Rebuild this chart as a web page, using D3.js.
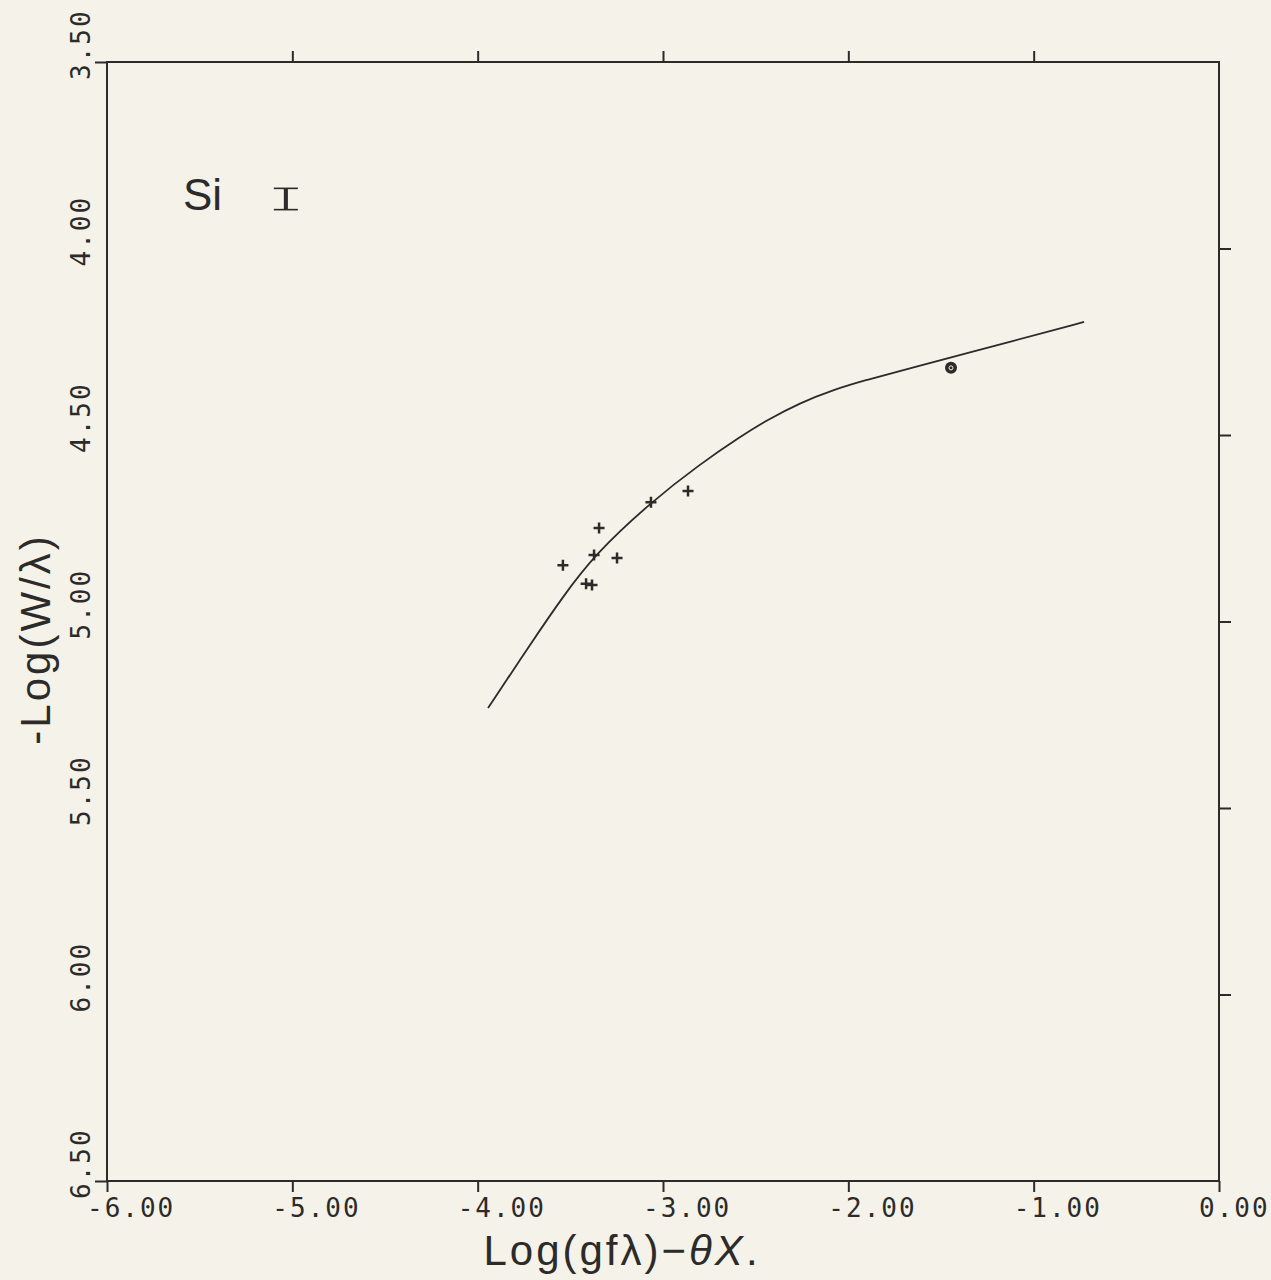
<!DOCTYPE html>
<html>
<head>
<meta charset="utf-8">
<script src="https://cdn.jsdelivr.net/npm/d3@7"></script>
<style>
  html, body { margin: 0; padding: 0; background: #f4f2e9; }
  svg { display: block; }
</style>
</head>
<body>
<script>
// Tick values and their printed labels
const xTicks = [-6, -5, -4, -3, -2, -1, 0];
const xTickLabels = ["-6.00", "-5.00", "-4.00", "-3.00", "-2.00", "-1.00", "0.00"];
const yTicks = [3.5, 4.0, 4.5, 5.0, 5.5, 6.0, 6.5];
const yTickLabels = ["3.50", "4.00", "4.50", "5.00", "5.50", "6.00", "6.50"];

// Measured lines (plus markers)
const lineX = [-2.865, -3.065, -3.345, -3.372, -3.248, -3.540, -3.415, -3.383];
const lineY = [4.650, 4.680, 4.749, 4.822, 4.830, 4.849, 4.899, 4.902];

// Circled point
const circX = [-1.446];
const circY = [4.320];

// Theoretical curve of growth
const curveX = [-3.944, -3.701, -3.545, -3.372, -3.065, -2.800, -2.584, -2.439, -2.261, -2.083, -1.899, -1.721, -1.074, -0.728];
const curveY = [5.232, 5.050, 4.937, 4.822, 4.680, 4.578, 4.505, 4.460, 4.414, 4.379, 4.352, 4.328, 4.243, 4.197];

const W = 1271, H = 1280;
const ink = "#2c2b29";
const paper = "#f4f2e9";
const L = 107, R = 1219, T = 62, B = 1181;

const svg = d3.select("body").append("svg")
  .attr("width", W).attr("height", H)
  .style("background", paper);

const x = d3.scaleLinear().domain([-6, 0]).range([L, R]);
const y = d3.scaleLinear().domain([3.5, 6.5]).range([T, B]);

// Frame
svg.append("rect")
  .attr("x", L).attr("y", T).attr("width", R - L).attr("height", B - T)
  .attr("fill", "none").attr("stroke", ink).attr("stroke-width", 2);

function styleAxis(g) {
  g.select(".domain").remove();
  g.selectAll(".tick line").attr("stroke", ink).attr("stroke-width", 2);
  g.selectAll(".tick text").remove();
}

// Bottom ticks (outward)
svg.append("g").attr("transform", `translate(0,${B})`)
  .call(d3.axisBottom(x).tickValues(xTicks).tickSize(11).tickFormat(""))
  .call(styleAxis);

// Top ticks (outward), interior values only
svg.append("g").attr("transform", `translate(0,${T})`)
  .call(d3.axisTop(x).tickValues(xTicks.slice(1, -1)).tickSize(11).tickFormat(""))
  .call(styleAxis);

// Left ticks at the ends of the range
svg.append("g").attr("transform", `translate(${L},0)`)
  .call(d3.axisLeft(y).tickValues([yTicks[0], yTicks[yTicks.length - 1]]).tickSize(12).tickFormat(""))
  .call(styleAxis);

// Right ticks, interior values
svg.append("g").attr("transform", `translate(${R},0)`)
  .call(d3.axisRight(y).tickValues(yTicks.slice(1, -1)).tickSize(12).tickFormat(""))
  .call(styleAxis);

const tickFont = "'DejaVu Sans Mono', 'Liberation Mono', monospace";

// X tick labels
svg.append("g").selectAll("text")
  .data(xTicks)
  .join("text")
  .attr("x", d => x(d) - 20)
  .attr("y", 1217)
  .attr("font-family", tickFont)
  .attr("font-size", 26)
  .attr("letter-spacing", 2)
  .attr("fill", ink)
  .text((d, i) => xTickLabels[i]);

// Y tick labels, rotated
svg.append("g").selectAll("text")
  .data(yTicks)
  .join("text")
  .attr("transform", d => `translate(90,${y(d) + 18}) rotate(-90)`)
  .attr("font-family", tickFont)
  .attr("font-size", 26)
  .attr("letter-spacing", 2)
  .attr("fill", ink)
  .text((d, i) => yTickLabels[i]);

const titleFont = "'Liberation Sans', Arial, sans-serif";

// X axis title
const xt = svg.append("text")
  .attr("x", 622).attr("y", 1265)
  .attr("text-anchor", "middle")
  .attr("font-family", titleFont)
  .attr("font-size", 42)
  .attr("letter-spacing", 3)
  .attr("fill", ink);
xt.append("tspan").text("Log(gfλ)−");
xt.append("tspan").attr("font-style", "italic").text("θX");
xt.append("tspan").text(".");

// Y axis title
svg.append("text")
  .attr("transform", "translate(50,639) rotate(-90)")
  .attr("text-anchor", "middle")
  .attr("font-family", titleFont)
  .attr("font-size", 42)
  .attr("letter-spacing", 3)
  .attr("fill", ink)
  .text("-Log(W/λ)");

// Species label: "Si" plus a wide, serifed roman numeral one
svg.append("text")
  .attr("x", 183).attr("y", 210)
  .attr("font-family", titleFont)
  .attr("font-size", 44)
  .attr("fill", ink)
  .text("Si");
svg.append("text")
  .attr("transform", "translate(286,211) scale(1.75,1)")
  .attr("text-anchor", "middle")
  .attr("font-family", "'Liberation Mono', 'DejaVu Sans Mono', monospace")
  .attr("font-size", 37)
  .attr("fill", ink)
  .attr("stroke", paper)
  .attr("stroke-width", 1.1)
  .attr("paint-order", "fill")
  .text("I");

// Curve
const curveData = curveX.map((v, i) => [v, curveY[i]]);
svg.append("path")
  .datum(curveData)
  .attr("fill", "none")
  .attr("stroke", ink)
  .attr("stroke-width", 1.8)
  .attr("d", d3.line().x(d => x(d[0])).y(d => y(d[1])).curve(d3.curveBasis));

// Plus markers
const plusData = lineX.map((v, i) => [v, lineY[i]]);
const arm = 5.5;
svg.append("g").selectAll("path")
  .data(plusData)
  .join("path")
  .attr("d", d => {
    const px = x(d[0]), py = y(d[1]);
    return `M${px - arm},${py}H${px + arm}M${px},${py - arm}V${py + arm}`;
  })
  .attr("stroke", ink)
  .attr("stroke-width", 2.5)
  .attr("fill", "none");

// Circle marker
const circData = circX.map((v, i) => [v, circY[i]]);
const cg = svg.append("g");
cg.selectAll("circle.o")
  .data(circData)
  .join("circle")
  .attr("class", "o")
  .attr("cx", d => x(d[0])).attr("cy", d => y(d[1]))
  .attr("r", 6)
  .attr("fill", ink);
cg.selectAll("circle.i")
  .data(circData)
  .join("circle")
  .attr("class", "i")
  .attr("cx", d => x(d[0])).attr("cy", d => y(d[1]))
  .attr("r", 2)
  .attr("fill", "none")
  .attr("stroke", paper)
  .attr("stroke-width", 1);
</script>
</body>
</html>
